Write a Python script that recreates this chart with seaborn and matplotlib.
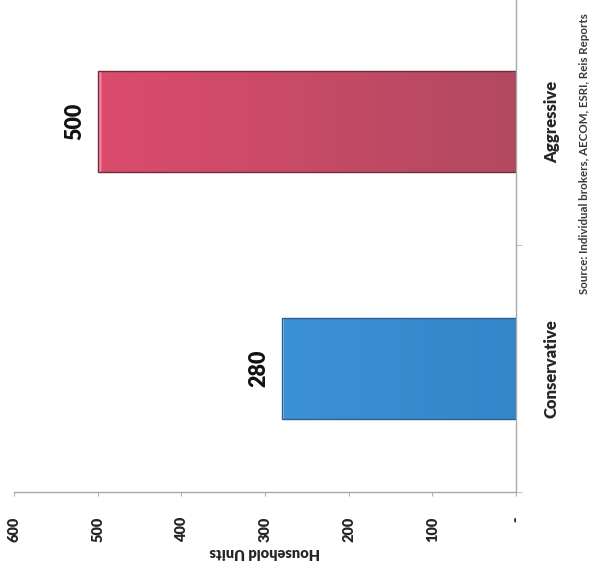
import numpy as np
import pandas as pd
import matplotlib
matplotlib.use("Agg")
import matplotlib.pyplot as plt
from matplotlib.colors import to_rgb
import seaborn as sns

# Chart data
scenarios = ["Conservative", "Aggressive"]
household_units = [280, 500]
value_ticks = [0, 100, 200, 300, 400, 500, 600]
value_tick_labels = ["-", "100", "200", "300", "400", "500", "600"]
axis_title = "Household Units"
source_note = "Source: Individual brokers, AECOM, ESRI, Reis Reports"

# Fill styling per scenario: (colour at the base, colour at the bar end, highlight, edge)
bar_styles = [
    ("#3585c9", "#3c91d4", "#8fd3f2", "#2b5f8f"),
    ("#b24961", "#dc4c6c", "#f38aa4", "#6e2c3c"),
]

sns.set_style("white")
plt.rcParams["font.family"] = ["Lato", "DejaVu Sans"]
plt.rcParams["font.weight"] = "heavy"

df = pd.DataFrame({"scenario": scenarios, "units": household_units})

fig = plt.figure(figsize=(5.92, 5.84), dpi=100)
ax = fig.add_axes([14 / 592, (584 - 492) / 584, (516 - 14) / 592, 494 / 584])

sns.barplot(
    data=df, x="units", y="scenario", hue="scenario", order=scenarios,
    palette=[s[1] for s in bar_styles], orient="h", width=0.405,
    legend=False, ax=ax, linewidth=1.0,
)

ax.set_xlim(600, 0)
ax.set_ylim(-0.5, 1.5)

# Gradient fill inside each bar, clipped to the bar outline
for patch in list(ax.patches):
    x0, w = patch.get_x(), patch.get_width()
    y0, h = patch.get_y(), patch.get_height()
    idx = int(round(y0 + h / 2))
    c_base, c_end, c_hi, c_edge = bar_styles[idx]
    n = 256
    t = np.linspace(0, 1, n)[None, :, None]
    grad = (1 - t) * np.array(to_rgb(c_base)) + t * np.array(to_rgb(c_end))
    grad[:, -2:, :] = to_rgb(c_hi)
    im = ax.imshow(grad, extent=(x0, x0 + w, y0, y0 + h), aspect="auto",
                   origin="lower", zorder=patch.get_zorder() - 0.1,
                   interpolation="bilinear")
    im.set_clip_path(patch)
    patch.set_facecolor("none")
    patch.set_edgecolor(c_edge)
    patch.set_linewidth(1.0)

ax.set_xlim(600, 0)
ax.set_ylim(-0.5, 1.5)

# Spines
for side in ["left", "top"]:
    ax.spines[side].set_visible(False)
for side in ["bottom", "right"]:
    ax.spines[side].set_visible(True)
    ax.spines[side].set_color("#a8a8a8")
    ax.spines[side].set_linewidth(1.0)

# Value axis
ax.set_xticks(value_ticks)
ax.set_xticklabels(value_tick_labels, rotation=90, fontsize=10.5, fontweight="heavy")
ax.tick_params(axis="x", bottom=True, direction="out", length=3,
               color="#b0b0b0", pad=15)
ax.set_xlabel(axis_title, rotation=180, fontsize=10.5, fontweight="heavy",
              labelpad=3)

# Category axis on the right
ax.yaxis.tick_right()
ax.set_yticks([0, 1])
ax.set_yticklabels(scenarios, rotation=90, va="center", fontsize=12,
                   fontweight="heavy")
ax.set_yticks([-0.5, 0.5, 1.5], minor=True)
ax.tick_params(axis="y", which="major", length=0, pad=20, right=True, left=False)
ax.tick_params(axis="y", which="minor", length=4, right=True, left=False,
               direction="out", color="#b0b0b0")
ax.set_ylabel("")

# Value labels at the end of each bar
for container in ax.containers:
    ax.bar_label(container, fmt="%d", padding=9, rotation=90, fontsize=15.5,
                 fontweight="heavy", color="#111111")

fig.text(585 / 592, (584 - 294) / 584, source_note, rotation=90,
         ha="center", va="bottom", fontsize=8.3, fontweight="bold",
         color="#3a3a3a")

fig.savefig("out.png", dpi=100)
